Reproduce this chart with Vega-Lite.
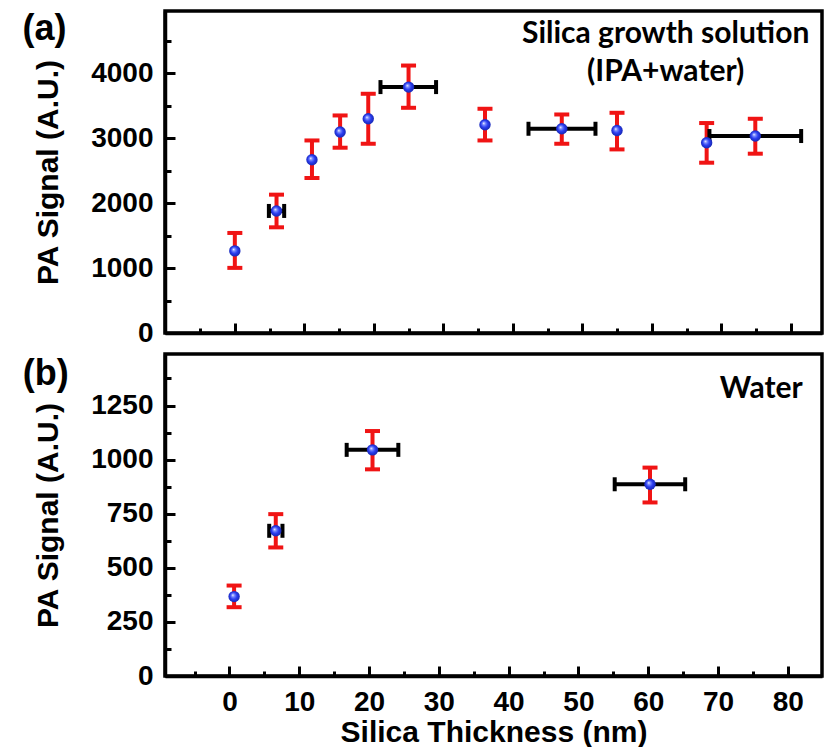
{
  "$schema": "https://vega.github.io/schema/vega-lite/v6.json",
  "padding": {"left": 20, "top": 9, "right": 6, "bottom": 2},
  "spacing": 3,
  "datasets": {
    "a": [
      {"x": 0, "y": 1265, "ylo": 1003, "yhi": 1541},
      {"x": 6.0, "y": 1880, "ylo": 1628, "yhi": 2131, "xlo": 4.9, "xhi": 7.1},
      {"x": 11.1, "y": 2669, "ylo": 2388, "yhi": 2966},
      {"x": 15.15, "y": 3095, "ylo": 2854, "yhi": 3351},
      {"x": 19.2, "y": 3300, "ylo": 2915, "yhi": 3685},
      {"x": 25.0, "y": 3788, "ylo": 3469, "yhi": 4120, "xlo": 20.96, "xhi": 28.96},
      {"x": 36.0, "y": 3208, "ylo": 2966, "yhi": 3454},
      {"x": 47.05, "y": 3146, "ylo": 2915, "yhi": 3366, "xlo": 42.26, "xhi": 51.9},
      {"x": 55.0, "y": 3120, "ylo": 2828, "yhi": 3392},
      {"x": 67.9, "y": 2930, "ylo": 2623, "yhi": 3234},
      {"x": 74.9, "y": 3034, "ylo": 2762, "yhi": 3300, "xlo": 68.3, "xhi": 81.5}
    ],
    "b": [
      {"x": 0.67, "y": 367, "ylo": 318, "yhi": 418},
      {"x": 6.64, "y": 671, "ylo": 594, "yhi": 748, "xlo": 5.7, "xhi": 7.6},
      {"x": 20.5, "y": 1045, "ylo": 955, "yhi": 1132, "xlo": 16.8, "xhi": 24.2},
      {"x": 60.26, "y": 886, "ylo": 802, "yhi": 963, "xlo": 55.2, "xhi": 65.3}
    ],
    "anna": [
      {"x": 62, "y": 4465, "text": "Silica growth solution"},
      {"x": 62, "y": 3889, "text": "(IPA+water)"}
    ],
    "annb": [
      {"x": 82.15, "y": 1286, "text": "Water"}
    ],
    "laba": [{"x": -30.56, "y": 4685, "text": "(a)"}],
    "labb": [{"x": -29.6, "y": 1394, "text": "(b)"}]
  },
  "vconcat": [
    {
      "width": 657,
      "height": 322,
      "encoding": {
        "x": {
          "field": "x", "type": "quantitative",
          "scale": {"domain": [-10.05, 84.5], "nice": false, "zero": false},
          "axis": {
            "values": [-5, 0, 5, 10, 15, 20, 25, 30, 35, 40, 45, 50, 55, 60, 65, 70, 75, 80],
            "labels": false, "title": null,
            "tickSize": {"expr": "datum.value % 10 === 0 ? -10 : -5"}
          }
        },
        "y": {
          "field": "y", "type": "quantitative",
          "scale": {"domain": [0, 4960], "nice": false},
          "axis": {
            "values": [0, 500, 1000, 1500, 2000, 2500, 3000, 3500, 4000, 4500],
            "format": "d",
            "labelExpr": "datum.value % 1000 === 0 ? datum.label : ''",
            "title": "PA Signal (A.U.)",
            "tickSize": {"expr": "datum.value % 1000 === 0 ? -10 : -6"},
            "labelPadding": 22, "titlePadding": 27
          }
        }
      },
      "layer": [
        {"data": {"name": "a"}, "mark": {"type": "rule", "color": "#f01414", "strokeWidth": 4},
         "encoding": {"y": {"field": "ylo", "type": "quantitative"}, "y2": {"field": "yhi"}}},
        {"data": {"name": "a"}, "mark": {"type": "tick", "orient": "horizontal", "color": "#f01414", "size": 15, "thickness": 4, "opacity": 1},
         "encoding": {"y": {"field": "ylo", "type": "quantitative"}}},
        {"data": {"name": "a"}, "mark": {"type": "tick", "orient": "horizontal", "color": "#f01414", "size": 15, "thickness": 4, "opacity": 1},
         "encoding": {"y": {"field": "yhi", "type": "quantitative"}}},
        {"data": {"name": "a"}, "transform": [{"filter": "datum.xlo != null"}],
         "mark": {"type": "rule", "color": "#000000", "strokeWidth": 4},
         "encoding": {"x": {"field": "xlo", "type": "quantitative"}, "x2": {"field": "xhi"}}},
        {"data": {"name": "a"}, "transform": [{"filter": "datum.xlo != null"}],
         "mark": {"type": "tick", "orient": "vertical", "color": "#000000", "size": 14, "thickness": 4, "opacity": 1},
         "encoding": {"x": {"field": "xlo", "type": "quantitative"}}},
        {"data": {"name": "a"}, "transform": [{"filter": "datum.xlo != null"}],
         "mark": {"type": "tick", "orient": "vertical", "color": "#000000", "size": 14, "thickness": 4, "opacity": 1},
         "encoding": {"x": {"field": "xhi", "type": "quantitative"}}},
        {"data": {"name": "a"},
         "mark": {"type": "circle", "size": 130, "opacity": 1, "strokeWidth": 0,
           "fill": {"gradient": "radial", "x1": 0.38, "y1": 0.36, "r1": 0, "x2": 0.5, "y2": 0.5, "r2": 0.55,
             "stops": [{"offset": 0, "color": "#ffffff"}, {"offset": 0.22, "color": "#8090ff"}, {"offset": 0.55, "color": "#2a3cf0"}, {"offset": 1, "color": "#1424a8"}]}}},
        {"data": {"name": "anna"},
         "mark": {"type": "text", "font": "Lato", "fontWeight": "bold", "fontSize": 30, "align": "center", "baseline": "alphabetic", "color": "black"},
         "encoding": {"text": {"field": "text"}}},
        {"data": {"name": "laba"},
         "mark": {"type": "text", "font": "Liberation Sans", "fontWeight": "bold", "fontSize": 36, "align": "left", "baseline": "middle", "color": "black", "clip": false},
         "encoding": {"text": {"field": "text"}}}
      ]
    },
    {
      "width": 657,
      "height": 322,
      "encoding": {
        "x": {
          "field": "x", "type": "quantitative",
          "scale": {"domain": [-9.23, 84.9], "nice": false, "zero": false},
          "axis": {
            "values": [-5, 0, 5, 10, 15, 20, 25, 30, 35, 40, 45, 50, 55, 60, 65, 70, 75, 80],
            "format": "d",
            "labelExpr": "datum.value % 10 === 0 ? datum.label : ''",
            "title": "Silica Thickness (nm)",
            "tickSize": {"expr": "datum.value % 10 === 0 ? -10 : -5"},
            "labelPadding": 22, "titlePadding": 1
          }
        },
        "y": {
          "field": "y", "type": "quantitative",
          "scale": {"domain": [0, 1488], "nice": false},
          "axis": {
            "values": [0, 125, 250, 375, 500, 625, 750, 875, 1000, 1125, 1250, 1375],
            "format": "d",
            "labelExpr": "datum.value % 250 === 0 ? datum.label : ''",
            "title": "PA Signal (A.U.)",
            "tickSize": {"expr": "datum.value % 250 === 0 ? -10 : -6"},
            "labelPadding": 22, "titlePadding": 27
          }
        }
      },
      "layer": [
        {"data": {"name": "b"}, "mark": {"type": "rule", "color": "#f01414", "strokeWidth": 4},
         "encoding": {"y": {"field": "ylo", "type": "quantitative"}, "y2": {"field": "yhi"}}},
        {"data": {"name": "b"}, "mark": {"type": "tick", "orient": "horizontal", "color": "#f01414", "size": 15, "thickness": 4, "opacity": 1},
         "encoding": {"y": {"field": "ylo", "type": "quantitative"}}},
        {"data": {"name": "b"}, "mark": {"type": "tick", "orient": "horizontal", "color": "#f01414", "size": 15, "thickness": 4, "opacity": 1},
         "encoding": {"y": {"field": "yhi", "type": "quantitative"}}},
        {"data": {"name": "b"}, "transform": [{"filter": "datum.xlo != null"}],
         "mark": {"type": "rule", "color": "#000000", "strokeWidth": 4},
         "encoding": {"x": {"field": "xlo", "type": "quantitative"}, "x2": {"field": "xhi"}}},
        {"data": {"name": "b"}, "transform": [{"filter": "datum.xlo != null"}],
         "mark": {"type": "tick", "orient": "vertical", "color": "#000000", "size": 14, "thickness": 4, "opacity": 1},
         "encoding": {"x": {"field": "xlo", "type": "quantitative"}}},
        {"data": {"name": "b"}, "transform": [{"filter": "datum.xlo != null"}],
         "mark": {"type": "tick", "orient": "vertical", "color": "#000000", "size": 14, "thickness": 4, "opacity": 1},
         "encoding": {"x": {"field": "xhi", "type": "quantitative"}}},
        {"data": {"name": "b"},
         "mark": {"type": "circle", "size": 130, "opacity": 1, "strokeWidth": 0,
           "fill": {"gradient": "radial", "x1": 0.38, "y1": 0.36, "r1": 0, "x2": 0.5, "y2": 0.5, "r2": 0.55,
             "stops": [{"offset": 0, "color": "#ffffff"}, {"offset": 0.22, "color": "#8090ff"}, {"offset": 0.55, "color": "#2a3cf0"}, {"offset": 1, "color": "#1424a8"}]}}},
        {"data": {"name": "annb"},
         "mark": {"type": "text", "font": "Lato", "fontWeight": "bold", "fontSize": 30, "align": "right", "baseline": "alphabetic", "color": "black"},
         "encoding": {"text": {"field": "text"}}},
        {"data": {"name": "labb"},
         "mark": {"type": "text", "font": "Liberation Sans", "fontWeight": "bold", "fontSize": 36, "align": "left", "baseline": "middle", "color": "black", "clip": false},
         "encoding": {"text": {"field": "text"}}}
      ]
    }
  ],
  "resolve": {"scale": {"x": "independent", "y": "independent"}},
  "config": {
    "view": {"stroke": "black", "strokeWidth": 3.5},
    "axis": {
      "grid": false,
      "domainColor": "black", "domainWidth": 3.5,
      "tickColor": "black", "tickWidth": 3,
      "labelFont": "Liberation Sans", "labelFontWeight": "bold", "labelFontSize": 28, "labelColor": "black",
      "titleFont": "Liberation Sans", "titleFontWeight": "bold", "titleFontSize": 30, "titleColor": "black"
    }
  }
}
